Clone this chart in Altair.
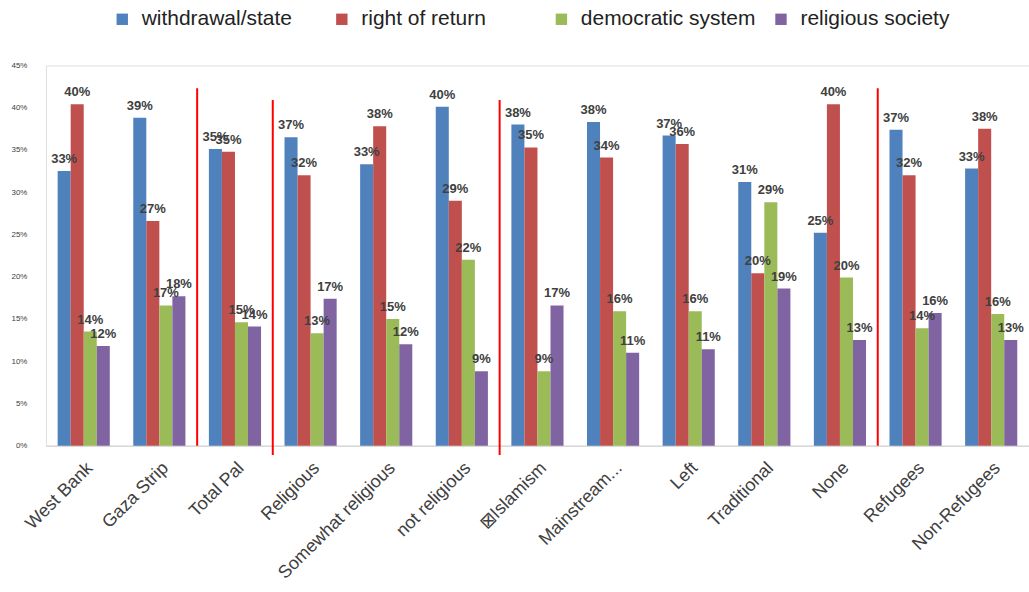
import altair as alt
import pandas as pd

categories = ["West Bank", "Gaza Strip", "Total Pal", "Religious", "Somewhat religious",
              "not religious", "⊠Islamism", "Mainstream...", "Left", "Traditional",
              "None", "Refugees", "Non-Refugees"]
series = ["withdrawal/state", "right of return", "democratic  system", "religious society"]
colors = ["#4F81BD", "#C0504D", "#9BBB59", "#8064A2"]

withdrawal = [32.5, 38.8, 35.1, 36.5, 33.3, 40.1, 38.0, 38.3, 36.7, 31.2, 25.2, 37.4, 32.8]
right_of_return = [40.4, 26.6, 34.8, 32.0, 37.8, 29.0, 35.3, 34.1, 35.7, 20.4, 40.4, 32.0, 37.5]
democratic = [13.5, 16.6, 14.6, 13.3, 15.0, 22.0, 8.8, 15.9, 15.9, 28.8, 19.9, 13.9, 15.6]
religious_society = [11.8, 17.7, 14.1, 17.4, 12.0, 8.8, 16.6, 11.0, 11.4, 18.6, 12.5, 15.7, 12.5]

sep_before = ["Total Pal", "Religious", "⊠Islamism", "Refugees"]
sep_top = [42.3, 40.9, 40.9, 42.3]
sep_bottom = [0.0, -1.1, -1.1, 0.0]

rows = []
for s, vals in zip(series, [withdrawal, right_of_return, democratic, religious_society]):
    for c, v in zip(categories, vals):
        rows.append({"category": c, "series": s, "value": v})
df = pd.DataFrame(rows)
sep_df = pd.DataFrame({"category": sep_before, "top": sep_top, "bottom": sep_bottom})

x_scale = alt.Scale(domain=categories, paddingInner=0, paddingOuter=0)
x_axis = alt.Axis(title=None, labelAngle=-45, labelFontSize=18, labelColor="#404040",
                  ticks=False, domainColor="#D9D9D9", domainWidth=1.5, labelPadding=13,
                  labelLimit=400)
x_enc = alt.X("category:N", scale=x_scale, axis=x_axis)
xo_enc = alt.XOffset("series:N", scale=alt.Scale(domain=series, paddingInner=0, paddingOuter=0.9))
y_enc = alt.Y("value:Q", scale=alt.Scale(domain=[0, 45], nice=False),
              axis=alt.Axis(title=None, values=list(range(0, 50, 5)),
                            labelExpr="datum.value + '%'", grid=False, domain=False,
                            ticks=False, labelFontSize=8, labelColor="#404040",
                            labelPadding=19))

base = alt.Chart(df)
bars = base.mark_bar().encode(
    x=x_enc, xOffset=xo_enc, y=y_enc,
    color=alt.Color("series:N", scale=alt.Scale(domain=series, range=colors),
                    legend=alt.Legend(title=None, orient="none", legendX=66, legendY=-57,
                                      direction="horizontal", symbolType="square",
                                      symbolSize=130, symbolStrokeWidth=0,
                                      labelFontSize=21, labelColor="#222222",
                                      labelLimit=400, gridAlign="all",
                                      columnPadding=9, labelOffset=9)),
)
labels = base.transform_calculate(label="round(datum.value) + '%'").mark_text(
    dy=-12, fontSize=13, color="#404040", fontWeight="bold"
).encode(x=x_enc, xOffset=xo_enc, y=y_enc, text="label:N")

rules = alt.Chart(sep_df).mark_rule(color="#FF0000", strokeWidth=2).encode(
    x=alt.X("category:N", scale=x_scale, bandPosition=0),
    y="top:Q", y2="bottom:Q",
)

chart = alt.layer(bars, labels, rules).properties(
    width=985, height=381,
    padding={"left": 10, "top": 8, "right": 0, "bottom": 0},
).configure_view(stroke=None).configure(font="Liberation Sans")

chart.save("out.html", embed_options={"renderer": "svg", "actions": False})
